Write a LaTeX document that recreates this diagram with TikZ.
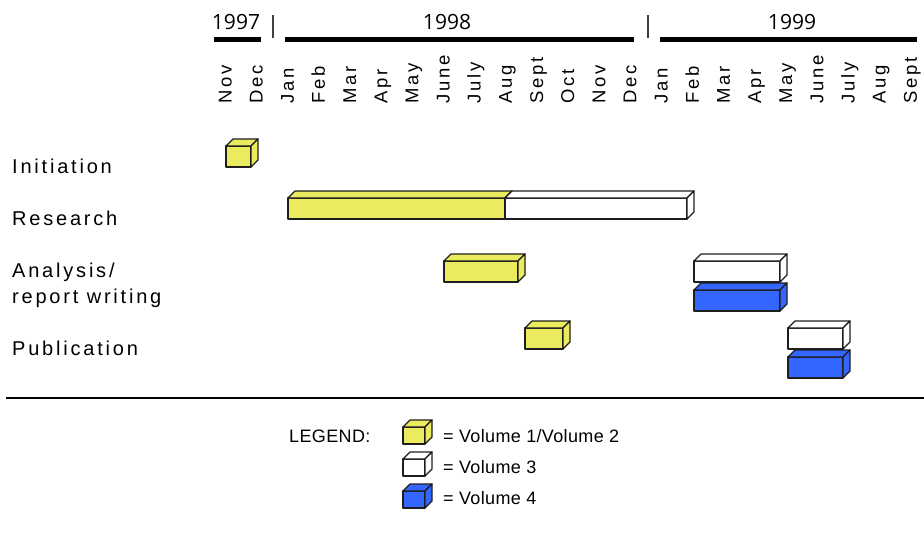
\documentclass[tikz,border=0pt]{standalone}
\usepackage{fontspec}
\setmainfont{Liberation Sans}
\newfontfamily\lblfont[LetterSpace=14]{Liberation Sans}
\newfontfamily\monfont[LetterSpace=15]{Liberation Sans}
\newfontfamily\yrfont{Open Sans}
\newfontfamily\lgfont[LetterSpace=2]{Liberation Sans}
\definecolor{volyellow}{RGB}{235,235,95}
\definecolor{volblue}{RGB}{51,102,255}
\definecolor{edgegray}{RGB}{30,30,30}
\tikzset{
  boxedge/.style={draw=edgegray, line width=1.2pt, line join=round},
  yearbar/.style={line width=5pt},
  yearsep/.style={line width=1.6pt, draw=black!75},
  rowlabel/.style={anchor=base west, inner sep=0pt, font=\lblfont\fontsize{20}{20}\selectfont},
  monthlabel/.style={rotate=90, anchor=base west, inner sep=0pt, font=\monfont\fontsize{18.5}{18.5}\selectfont},
  yearlabel/.style={anchor=base, inner sep=0pt, font=\yrfont\fontsize{21}{21}\selectfont},
  legendtext/.style={anchor=base west, inner sep=0pt, font=\lgfont\fontsize{18}{18}\selectfont}
}
% x1 y1 x2 y2 fill
\newcommand\gcube[5]{%
  \filldraw[boxedge,fill=#5] (#1,#2) rectangle (#3,#4);
  \filldraw[boxedge,fill=#5] (#1,#2) -- (#1+7,#2-7) -- (#3+7,#2-7) -- (#3,#2) -- cycle;
  \filldraw[boxedge,fill=#5] (#3,#2) -- (#3+7,#2-7) -- (#3+7,#4-7) -- (#3,#4) -- cycle;
}
\begin{document}
\begin{tikzpicture}[x=1pt,y=-1pt]
\useasboundingbox[fill=white] (0,0) rectangle (924,533);

% years
\node[yearlabel] (y97) at (236,29) {1997};
\node[yearlabel] (y98) at (447,29) {1998};
\node[yearlabel] (y99) at (792,29) {1999};
\draw[yearbar] (214,39) -- (261,39);
\draw[yearbar] (285,39) -- (634,39);
\draw[yearbar] (660,39) -- (917,39);
\draw[yearsep] (273,15) -- (273,38);
\draw[yearsep] (648,15) -- (648,38);

% months
\foreach \m [count=\i from 0] in {Nov,Dec,Jan,Feb,Mar,Apr,May,June,July,Aug,Sept,Oct,Nov,Dec,Jan,Feb,Mar,Apr,May,June,July,Aug,Sept}
  \node[monthlabel] (m\i) at ({231.5+31.15*\i},104) {\m};

% row labels
\node[rowlabel] (initiation) at (12,173) {Initiation};
\node[rowlabel] (research) at (12,225) {Research};
\node[rowlabel] (analysis) at (12,277) {Analysis/};
\node[rowlabel] (report) at (12,303) {report writing};
\node[rowlabel] (publication) at (12,355) {Publication};

% bars
\gcube{226}{146}{251}{167}{volyellow}
\gcube{288}{198}{505}{219}{volyellow}
\gcube{505}{198}{687}{219}{white}
\gcube{444}{261}{518}{282}{volyellow}
\gcube{694}{261}{780}{282}{white}
\gcube{694}{290}{780}{311}{volblue}
\gcube{525}{328}{563}{349}{volyellow}
\gcube{788}{328}{843}{349}{white}
\gcube{788}{357}{843}{378}{volblue}

% rule
\draw[line width=2.5pt] (6,398) -- (924,398);

% legend
\node[legendtext] (legend) at (289,442) {LEGEND:};
\gcube{403}{427}{425}{444}{volyellow}
\gcube{403}{459}{425}{476}{white}
\gcube{403}{491}{425}{508}{volblue}
\node[legendtext] (l1) at (443,442) {= Volume 1/Volume 2};
\node[legendtext] (l2) at (443,473) {= Volume 3};
\node[legendtext] (l3) at (443,504) {= Volume 4};
\end{tikzpicture}
\end{document}
